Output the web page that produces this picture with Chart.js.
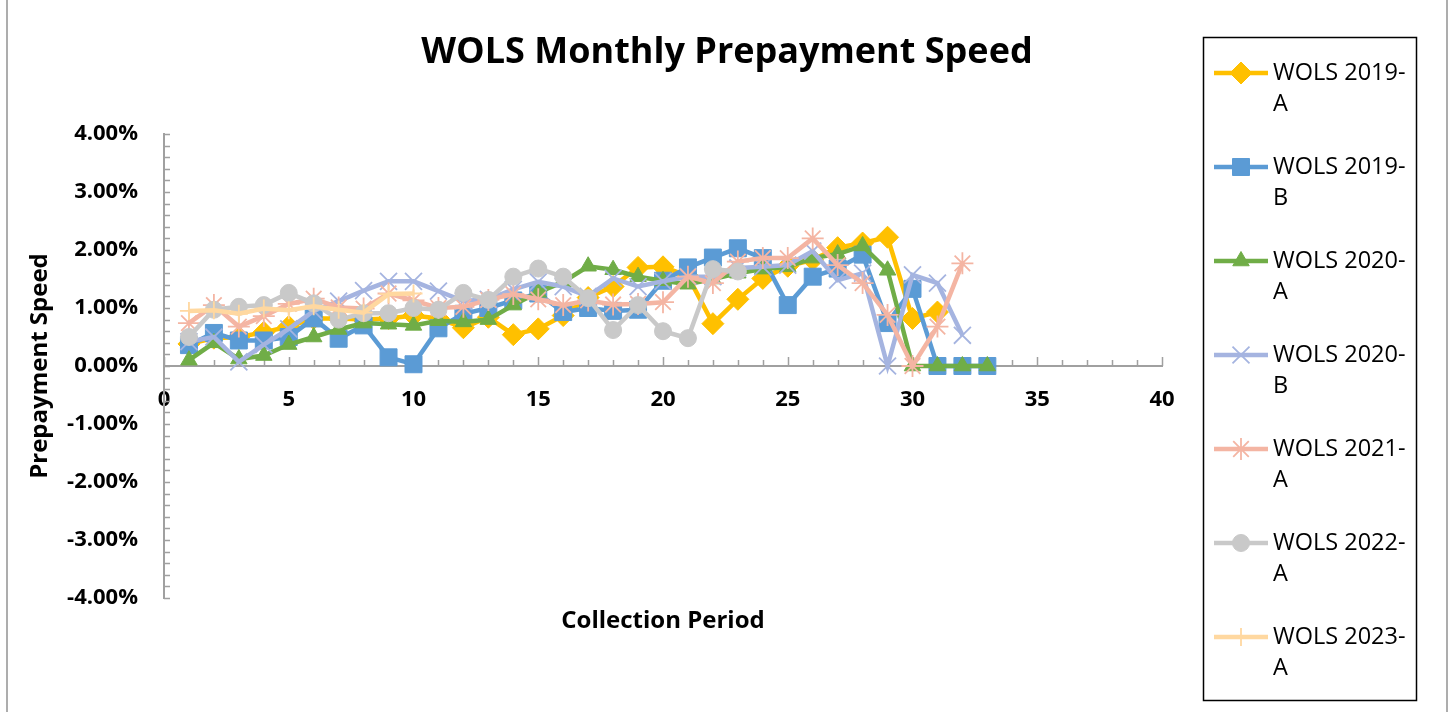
<!DOCTYPE html>
<html>
<head>
<meta charset="utf-8">
<script src="https://cdn.jsdelivr.net/npm/chart.js@4.4.1/dist/chart.umd.min.js"></script>
<style>
  html, body { margin: 0; padding: 0; background: #fff; }
  #wrap { width: 1453px; height: 712px; position: relative; }
</style>
</head>
<body>
<div id="wrap"><canvas id="grafico" width="1453" height="712"></canvas></div>
<script>
// periodos de cobranza
const periodos = [1, 2, 3, 4, 5, 6, 7, 8, 9, 10, 11, 12, 13, 14, 15, 16, 17, 18, 19, 20,
                  21, 22, 23, 24, 25, 26, 27, 28, 29, 30, 31, 32, 33];

// valores en %
const wols2019A = [0.38, 0.48, 0.50, 0.58, 0.68, 0.82, 0.82, 0.80, 0.82, 0.87, 0.82, 0.66, 0.84, 0.54, 0.64, 0.87,
                   1.18, 1.37, 1.70, 1.71, 1.55, 0.73, 1.15, 1.51, 1.72, 1.83, 2.04, 2.12, 2.22, 0.82, 0.93];
const wols2019B = [0.36, 0.57, 0.44, 0.44, 0.50, 0.82, 0.47, 0.70, 0.15, 0.03, 0.65, 0.90, 1.00, 1.13, 1.25, 0.93,
                   1.00, 0.95, 0.97, 1.47, 1.70, 1.87, 2.03, 1.86, 1.05, 1.54, 1.68, 1.92, 0.74, 1.33, 0, 0, 0];
const wols2020A = [0.10, 0.40, 0.12, 0.18, 0.37, 0.50, 0.63, 0.74, 0.72, 0.70, 0.78, 0.76, 0.80, 1.05, 1.27, 1.45,
                   1.72, 1.66, 1.54, 1.47, 1.41, 1.50, 1.60, 1.67, 1.71, 1.86, 1.93, 2.07, 1.65, 0, 0, 0, 0];
const wols2020B = [0.42, 0.50, 0.07, 0.37, 0.64, 0.95, 1.12, 1.30, 1.46, 1.46, 1.29, 1.12, 1.15, 1.32, 1.45, 1.37,
                   1.20, 1.51, 1.37, 1.46, 1.54, 1.54, 1.69, 1.71, 1.74, 1.98, 1.48, 1.60, 0, 1.57, 1.43, 0.53];
const wols2021A = [0.74, 1.05, 0.68, 0.86, 1.07, 1.16, 1.01, 0.99, 1.25, 1.13, 1.00, 1.02, 1.14, 1.24, 1.15, 1.05,
                   1.13, 1.06, 1.07, 1.10, 1.54, 1.43, 1.80, 1.86, 1.86, 2.20, 1.74, 1.43, 0.88, 0, 0.68, 1.77];
const wols2022A = [0.50, 0.97, 1.02, 1.05, 1.26, 1.08, 0.80, 0.91, 0.91, 1.00, 0.97, 1.26, 1.14, 1.54, 1.68, 1.54,
                   1.17, 0.62, 1.05, 0.60, 0.48, 1.67, 1.63];
const wols2023A = [0.95, 0.96, 0.90, 0.99, 0.96, 1.03, 0.97, 0.92, 1.24, 1.25];

const ejeYTicks = [-4, -3, -2, -1, 0, 1, 2, 3, 4];
const ejeXTicks = [0, 5, 10, 15, 20, 25, 30, 35, 40];

const fuente = "'Open Sans', 'DejaVu Sans', sans-serif";

function serie(label, valores, color, estilo, radio, borde) {
    return {
        label: label,
        data: valores.map((v, i) => ({ x: periodos[i], y: v })),
        borderColor: color,
        backgroundColor: color,
        borderWidth: 4.5,
        pointStyle: estilo,
        pointRadius: radio,
        pointHoverRadius: radio,
        pointBackgroundColor: color,
        pointBorderColor: color,
        pointBorderWidth: borde,
        tension: 0
    };
}

const datasets = [
    serie('WOLS 2019-A', wols2019A, '#FFC000', 'rectRot', 11, 1),
    serie('WOLS 2019-B', wols2019B, '#5B9BD5', 'rect', 12, 1),
    serie('WOLS 2020-A', wols2020A, '#70AD47', 'triangle', 9.5, 1),
    serie('WOLS 2020-B', wols2020B, '#A5B4E0', 'crossRot', 12, 1.8),
    serie('WOLS 2021-A', wols2021A, '#F4B5A3', 'star', 11, 1.8),
    serie('WOLS 2022-A', wols2022A, '#C9C9C9', 'circle', 8.5, 1),
    serie('WOLS 2023-A', wols2023A, '#FFD8A0', 'cross', 9, 1.8)
];
// la ultima serie queda encima, como en Excel
datasets.forEach((d, i) => { d.order = datasets.length - i; });

// marco, titulos y marcas de los ejes
const decoracion = {
    id: 'decoracion',
    beforeDraw(chart) {
        const ctx = chart.ctx;
        ctx.save();
        ctx.fillStyle = '#fff';
        ctx.fillRect(0, 0, chart.width, chart.height);
        ctx.strokeStyle = '#ADADAD';
        ctx.lineWidth = 2;
        ctx.beginPath();
        ctx.moveTo(7, 0); ctx.lineTo(7, chart.height);
        ctx.moveTo(1447, 0); ctx.lineTo(1447, chart.height);
        ctx.stroke();
        ctx.restore();
    },
    beforeDatasetsDraw(chart) {
        const ctx = chart.ctx;
        const xs = chart.scales.x, ys = chart.scales.y;
        const x0 = xs.getPixelForValue(0);
        const y0 = ys.getPixelForValue(0);
        ctx.save();
        ctx.strokeStyle = '#A0A0A0';
        ctx.lineWidth = 1.5;
        ctx.beginPath();
        for (let k = -20; k <= 20; k++) {
            const y = Math.round(ys.getPixelForValue(k / 5)) + 0.5;
            ctx.moveTo(x0, y); ctx.lineTo(x0 + 6, y);
        }
        for (let p = 0; p <= 40; p++) {
            const x = Math.round(xs.getPixelForValue(p)) + 0.5;
            ctx.moveTo(x, y0); ctx.lineTo(x, y0 - (p % 5 === 0 ? 9 : 6));
        }
        ctx.stroke();
        ctx.restore();
    },
    afterDraw(chart) {
        const ctx = chart.ctx;
        const area = chart.chartArea;
        ctx.save();
        ctx.fillStyle = '#000';
        ctx.textAlign = 'center';
        ctx.textBaseline = 'middle';
        ctx.font = 'bold 36px ' + fuente;
        ctx.fillText('WOLS Monthly Prepayment Speed', 727, 53);
        ctx.font = 'bold 24px ' + fuente;
        ctx.fillText('Collection Period', (area.left + area.right) / 2, 621);
        ctx.translate(40, (area.top + area.bottom) / 2);
        ctx.rotate(-Math.PI / 2);
        ctx.fillText('Prepayment Speed', 0, 0);
        ctx.restore();
    }
};

// leyenda en dos lineas como en la hoja
const leyenda = {
    id: 'leyenda',
    afterDraw(chart) {
        const ctx = chart.ctx;
        ctx.save();
        ctx.strokeStyle = '#000';
        ctx.lineWidth = 1.5;
        ctx.strokeRect(1203.5, 37.5, 213, 663);
        chart.data.datasets.forEach((ds, i) => {
            const y = 73 + i * 94;
            ctx.strokeStyle = ds.borderColor;
            ctx.lineWidth = ds.borderWidth;
            ctx.beginPath();
            ctx.moveTo(1214, y); ctx.lineTo(1268, y);
            ctx.stroke();
            ctx.fillStyle = ds.pointBackgroundColor;
            ctx.strokeStyle = ds.pointBorderColor;
            ctx.lineWidth = ds.pointBorderWidth;
            Chart.helpers.drawPoint(ctx, {
                pointStyle: ds.pointStyle, radius: ds.pointRadius,
                rotation: 0, borderWidth: ds.pointBorderWidth
            }, 1241, y);
            const corte = ds.label.lastIndexOf('-') + 1;
            ctx.fillStyle = '#000';
            ctx.font = '23.5px ' + fuente;
            ctx.textAlign = 'left';
            ctx.textBaseline = 'middle';
            ctx.fillText(ds.label.slice(0, corte), 1273, y);
            ctx.fillText(ds.label.slice(corte), 1273, y + 31);
        });
        ctx.restore();
    }
};

const getGrafic = document.getElementById('grafico').getContext('2d');
const myChart = new Chart(getGrafic, {
    type: 'line',
    data: { datasets: datasets },
    plugins: [decoracion, leyenda],
    options: {
        responsive: false,
        animation: false,
        layout: { padding: { left: 0, top: 134, right: 291, bottom: 114 } },
        plugins: {
            legend: { display: false },
            title: { display: false },
            tooltip: { enabled: false }
        },
        scales: {
            x: {
                type: 'linear',
                position: { y: 0 },
                min: 0,
                max: 40,
                afterBuildTicks: (s) => { s.ticks = ejeXTicks.map(v => ({ value: v })); },
                grid: { display: false, drawTicks: false },
                border: { display: true, color: '#A0A0A0', width: 2 },
                ticks: {
                    padding: 21,
                    color: '#000',
                    font: { family: fuente, size: 22, weight: 'bold' }
                }
            },
            y: {
                min: -4,
                max: 4,
                afterFit: (s) => { s.width = 164; },
                afterBuildTicks: (s) => { s.ticks = ejeYTicks.map(v => ({ value: v })); },
                grid: { display: false, drawTicks: false },
                border: { display: true, color: '#A0A0A0', width: 2 },
                ticks: {
                    padding: 26,
                    color: '#000',
                    font: { family: fuente, size: 22, weight: 'bold' },
                    callback: (v) => v.toFixed(2) + '%'
                }
            }
        }
    }
});
</script>
</body>
</html>
